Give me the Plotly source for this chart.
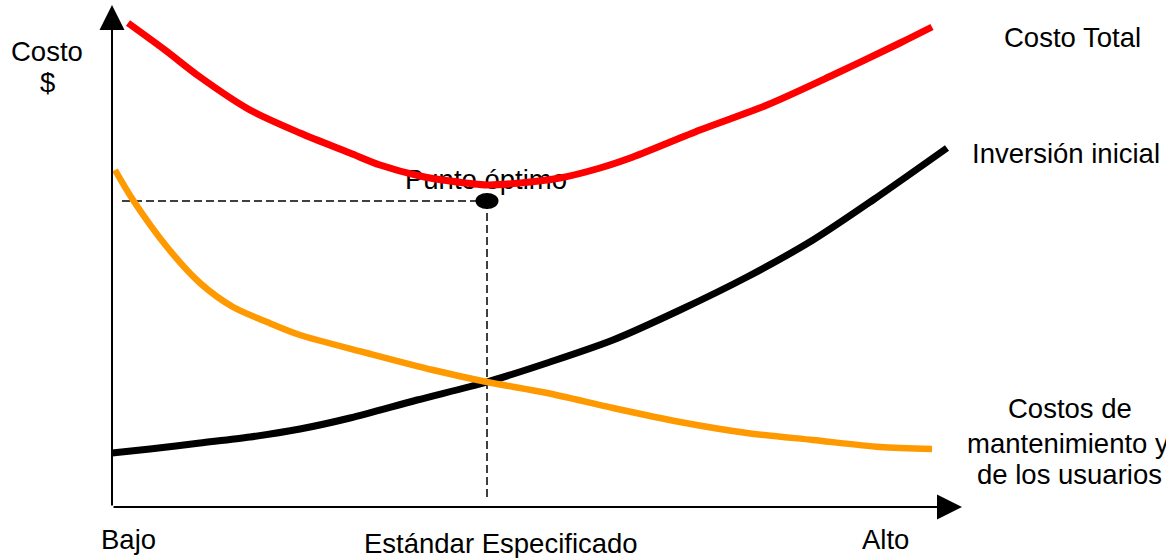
import plotly.graph_objects as go

# ---- data (x: nivel de estándar, y: costo; arbitrary units) ----
total_x = [1.6, 5.3, 8.8, 13.8, 18.8, 23.8, 26.8, 30.8, 33.8, 37.5, 40.8, 44.8, 48.8, 52.1, 58.8, 65.5, 72.1, 78.8, 82.0]
total_y = [96.8, 91.4, 86.0, 79.4, 74.8, 70.8, 68.4, 66.2, 65.2, 64.4, 64.8, 65.8, 67.8, 70.0, 75.4, 80.4, 86.4, 92.8, 96.0]

inv_x = [0.0, 3.8, 8.8, 13.8, 18.8, 23.8, 30.5, 37.5, 43.5, 50.1, 56.8, 63.5, 70.1, 76.1, 83.5]
inv_y = [10.8, 11.6, 12.8, 14.0, 15.6, 17.8, 21.4, 25.0, 28.8, 33.4, 39.4, 46.0, 53.4, 61.4, 71.8]

mant_x = [0.3, 2.1, 5.5, 8.8, 12.1, 15.5, 18.8, 25.5, 32.1, 37.5, 43.5, 50.1, 56.8, 63.5, 70.1, 76.8, 82.0]
mant_y = [67.4, 61.4, 52.0, 44.8, 40.0, 37.0, 34.4, 30.8, 27.4, 25.0, 22.8, 19.8, 17.0, 14.8, 13.4, 12.0, 11.6]

opt_x = 37.5
opt_y = 61.2
guide_x_start = 1.0
guide_y_end = 1.4

axis_x_end = 85.0
axis_y_end = 100.4

tick_labels = ["Bajo", "Estándar Especificado", "Alto"]
tick_pos = [1.65, 38.9, 77.3]

FONT = "Liberation Sans, Arial, sans-serif"
FS = 27.5

fig = go.Figure()

# guide dashed lines
fig.add_trace(go.Scatter(x=[guide_x_start, opt_x], y=[opt_y, opt_y], mode="lines",
                         line=dict(color="black", width=1.5, dash="8px,4px"), hoverinfo="skip"))
fig.add_trace(go.Scatter(x=[opt_x, opt_x], y=[opt_y, guide_y_end], mode="lines",
                         line=dict(color="black", width=1.5, dash="8px,4px"), hoverinfo="skip"))

# Punto óptimo label (below the red curve)
fig.add_trace(go.Scatter(x=[opt_x - 0.1], y=[opt_y + 3.7], mode="text", text=["Punto óptimo"],
                         textposition="middle center",
                         textfont=dict(family=FONT, size=FS, color="black"), hoverinfo="skip"))

fig.add_trace(go.Scatter(x=inv_x, y=inv_y, mode="lines",
                         line=dict(color="black", width=7, shape="spline", smoothing=0.8), hoverinfo="skip"))
fig.add_trace(go.Scatter(x=mant_x, y=mant_y, mode="lines",
                         line=dict(color="#FF9900", width=6.5, shape="spline", smoothing=0.8), hoverinfo="skip"))
fig.add_trace(go.Scatter(x=total_x, y=total_y, mode="lines",
                         line=dict(color="#FF0000", width=7, shape="spline", smoothing=0.8), hoverinfo="skip"))

# optimal point (ellipse)
fig.add_shape(type="circle", xref="x", yref="y", xsizemode="pixel", ysizemode="pixel",
              xanchor=opt_x, yanchor=opt_y, x0=-11.5, x1=11.5, y0=-8, y1=8,
              fillcolor="black", line=dict(color="black", width=0), layer="above")

annotations = []
# axes with arrows
annotations.append(dict(x=0, y=axis_y_end, ax=0, ay=0, xref="x", yref="y", axref="x", ayref="y",
                        text="", showarrow=True, arrowhead=2, arrowsize=2.5, arrowwidth=2,
                        arrowcolor="black", standoff=0, startstandoff=0))
annotations.append(dict(x=axis_x_end, y=0, ax=0, ay=0, xref="x", yref="y", axref="x", ayref="y",
                        text="", showarrow=True, arrowhead=2, arrowsize=2.5, arrowwidth=2,
                        arrowcolor="black", standoff=0, startstandoff=0))

def label(txt, x, y):
    annotations.append(dict(x=x, y=y, xref="x", yref="y", text=txt, showarrow=False,
                            xanchor="center", yanchor="middle",
                            font=dict(family=FONT, size=FS, color="black")))

label("Costo", -6.5, 91.1)
label("$", -6.5, 85.0)
label("Costo Total", 96.0, 93.9)
label("Inversión inicial", 95.4, 70.7)
label("Costos de", 95.75, 19.7)
label("mantenimiento y", 95.6, 12.8)
label("de los usuarios", 95.7, 6.5)
for t, p in zip(tick_labels, tick_pos):
    label(t, p, -6.5 if t != "Estándar Especificado" else -7.3)

fig.update_layout(
    width=1166, height=558,
    margin=dict(l=0, r=0, t=0, b=0),
    paper_bgcolor="white", plot_bgcolor="white",
    showlegend=False,
    xaxis=dict(range=[-11.2, 105.4], visible=False, fixedrange=True),
    yaxis=dict(range=[-10.2, 101.4], visible=False, fixedrange=True),
    annotations=annotations,
)

fig.write_html("out.html")
